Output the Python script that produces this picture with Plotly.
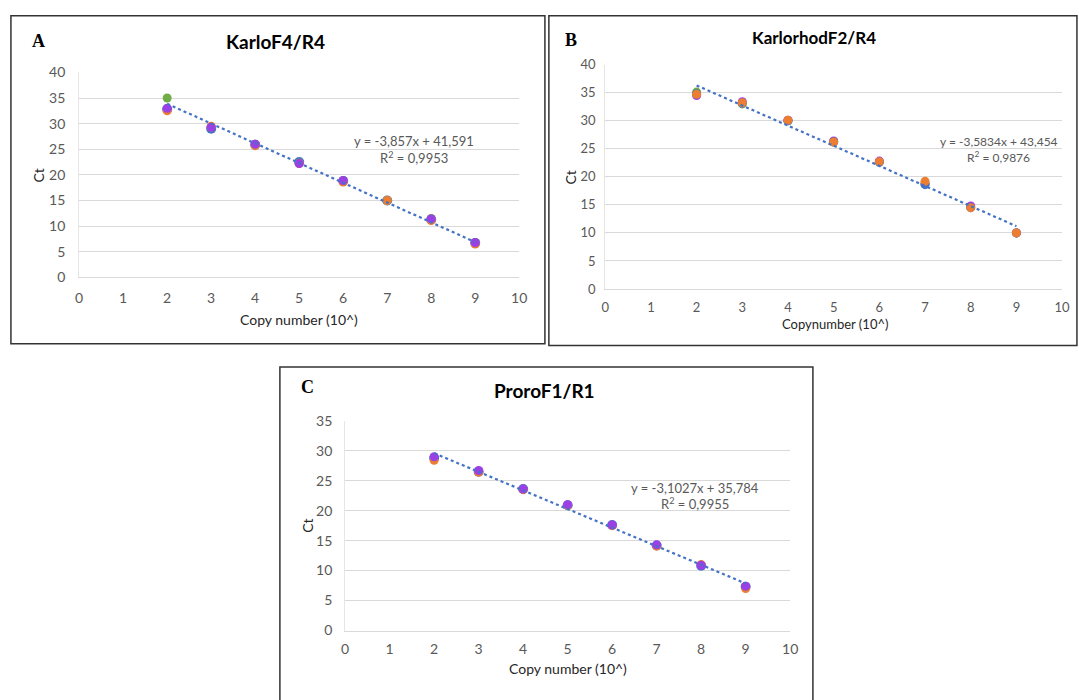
import plotly.graph_objects as go

# ---------------- data ----------------
copy_number = [2, 3, 4, 5, 6, 7, 8, 9]

# Panel A  KarloF4/R4
a_blue = [32.8, 29.0, 25.9, 22.5, 18.8, 15.0, 11.3, 6.7]
a_green = [35.0, 29.3, 26.0, 22.3, 18.9, 15.0, 11.5, 6.8]
a_orange = [32.5, 29.5, 25.7, 22.2, 18.6, 15.0, 11.1, 6.5]
a_purple = [33.0, 29.3, 26.0, 22.2, 18.9, None, 11.4, 6.8]

# Panel B  KarlorhodF2/R4
b_green = [35.1, 33.0, 30.0, 26.3, 22.7, 18.8, 14.6, 10.0]
b_purple = [34.5, 33.4, 30.1, 26.4, 22.8, 18.7, 14.8, 10.0]
b_blue = [34.8, 33.1, 30.0, 26.2, 22.6, 18.6, 14.5, 10.0]
b_orange = [34.7, 33.2, 30.1, 26.2, 22.7, 19.2, 14.5, 10.0]

# Panel C  ProroF1/R1
c_blue = [28.8, 26.5, 23.6, 20.9, 17.6, 14.2, 10.8, 7.3]
c_orange = [28.4, 26.4, 23.5, 20.9, 17.5, 14.1, 11.0, 7.0]
c_purple = [29.0, 26.7, 23.6, 21.0, 17.6, 14.3, 10.9, 7.4]

titles = ["KarloF4/R4", "KarlorhodF2/R4", "ProroF1/R1"]
letters = ["A", "B", "C"]
x_titles = ["Copy number (10^)", "Copynumber (10^)", "Copy number (10^)"]
slopes = [-3.857, -3.5834, -3.1027]
intercepts = [41.591, 43.454, 35.784]
eq_texts = ["y = -3,857x + 41,591", "y = -3,5834x + 43,454", "y = -3,1027x + 35,784"]
r2_texts = ["0,9953", "0,9876", "0,9955"]
y_max = [40, 40, 35]

# ---------------- styling ----------------
W, H = 1079, 700
BLUE = "#4472C4"
ORANGE = "#ED7D31"
GREEN = "#70AD47"
PURPLE = "#9B40E6"
FONT = "Lato, 'Open Sans', sans-serif"


def px_x(p):
    return p / W


def px_y(p):
    return 1 - p / H


# plot area pixel boxes (left, right, top, bottom)
areas = [(76, 521, 65, 275), (608, 1070, 57, 287), (345, 795, 422, 637)]
frames = [(7, 547, 7, 343), (551, 1085, 7, 345), (279, 818, 367, 710)]
title_pos = [(275, 33, 19), (819, 29, 17), (547, 391, 19)]
letter_pos = [(35, 33), (573, 32), (307, 387)]
xtitle_pos = [(298, 318, 14), (840, 323, 13), (570, 676, 14)]
ct_pos = [(35, 171), (573, 173), (307, 530)]
eq_pos = [(415, 135, 152, 13), (1006, 136, 152, 12), (699, 491, 507, 13)]
xtick_len = [8, 6, 6]
ytick_len = [10, 6, 9]
tick_size = [14, 13, 14]

fig = go.Figure()

series = [
    [(a_blue, BLUE, 10), (a_green, GREEN, 9), (a_orange, ORANGE, 9), (a_purple, PURPLE, 9)],
    [(b_green, GREEN, 9), (b_purple, PURPLE, 9), (b_blue, BLUE, 9), (b_orange, ORANGE, 9)],
    [(c_blue, BLUE, 10), (c_orange, ORANGE, 9), (c_purple, PURPLE, 9)],
]

annotations = []
shapes = []
for i in range(3):
    ax = "" if i == 0 else str(i + 1)
    xref, yref = "x" + ax, "y" + ax
    # trendline from fitted equation
    tx = [copy_number[0], copy_number[-1]]
    ty = [slopes[i] * v + intercepts[i] for v in tx]
    for vals, col, sz in series[i]:
        fig.add_trace(go.Scatter(
            x=copy_number, y=vals, mode="markers", xaxis=xref, yaxis=yref,
            marker=dict(color=col, size=sz, line=dict(width=0)), showlegend=False,
        ))
    fig.add_trace(go.Scatter(
        x=tx, y=ty, mode="lines", xaxis=xref, yaxis=yref,
        line=dict(color=BLUE, width=2.2, dash="dot"), showlegend=False,
    ))

    l, r, t, b = areas[i]
    fig.layout["xaxis" + ax] = dict(
        domain=[px_x(l), px_x(r)], range=[0, 10], dtick=1, anchor=yref,
        showgrid=False, zeroline=False, showline=True, linecolor="#D9D9D9", linewidth=1,
        ticks="outside", ticklen=xtick_len[i], tickcolor="rgba(0,0,0,0)",
        tickfont=dict(family=FONT, size=tick_size[i], color="#595959"),
        fixedrange=True,
    )
    fig.layout["yaxis" + ax] = dict(
        domain=[px_y(b), px_y(t)], range=[0, y_max[i]], dtick=5, anchor=xref,
        showgrid=True, gridcolor="#D9D9D9", gridwidth=1, zeroline=False,
        showline=True, linecolor="#E6E6E6", linewidth=1,
        ticks="outside", ticklen=ytick_len[i], tickcolor="rgba(0,0,0,0)",
        tickfont=dict(family=FONT, size=tick_size[i], color="#595959"),
        fixedrange=True,
    )

    fl, fr, ft, fb = frames[i]
    shapes.append(dict(type="rect", xref="paper", yref="paper",
                       x0=px_x(fl), x1=px_x(fr), y0=px_y(fb), y1=px_y(ft),
                       line=dict(color="#333333", width=1.5), fillcolor="rgba(0,0,0,0)"))

    tx_, ty_, ts = title_pos[i]
    annotations.append(dict(text="<b>" + titles[i] + "</b>", x=px_x(tx_), y=px_y(ty_),
                            xref="paper", yref="paper", showarrow=False,
                            xanchor="center", yanchor="middle",
                            font=dict(family=FONT, size=ts, color="#000000")))
    lx, ly = letter_pos[i]
    annotations.append(dict(text="<b>" + letters[i] + "</b>", x=px_x(lx), y=px_y(ly),
                            xref="paper", yref="paper", showarrow=False,
                            xanchor="center", yanchor="middle",
                            font=dict(family="'Liberation Serif', serif", size=18, color="#000000")))
    xx, xy, xs = xtitle_pos[i]
    annotations.append(dict(text=x_titles[i], x=px_x(xx), y=px_y(xy),
                            xref="paper", yref="paper", showarrow=False,
                            xanchor="center", yanchor="middle",
                            font=dict(family=FONT, size=xs, color="#262626")))
    cx, cy = ct_pos[i]
    annotations.append(dict(text="Ct", x=px_x(cx), y=px_y(cy), textangle=-90,
                            xref="paper", yref="paper", showarrow=False,
                            xanchor="center", yanchor="middle",
                            font=dict(family=FONT, size=14, color="#262626")))
    ex, ey1, ey2, es = eq_pos[i]
    annotations.append(dict(text=eq_texts[i], x=px_x(ex), y=px_y(ey1),
                            xref="paper", yref="paper", showarrow=False,
                            xanchor="center", yanchor="middle",
                            font=dict(family=FONT, size=es, color="#595959")))
    annotations.append(dict(text="R<sup>2</sup> = " + r2_texts[i], x=px_x(ex), y=px_y(ey2),
                            xref="paper", yref="paper", showarrow=False,
                            xanchor="center", yanchor="middle",
                            font=dict(family=FONT, size=es, color="#595959")))

fig.update_layout(
    width=W, height=H, margin=dict(l=0, r=0, t=0, b=0),
    paper_bgcolor="white", plot_bgcolor="white",
    annotations=annotations, shapes=shapes, showlegend=False,
)

fig.write_html("out.html")
